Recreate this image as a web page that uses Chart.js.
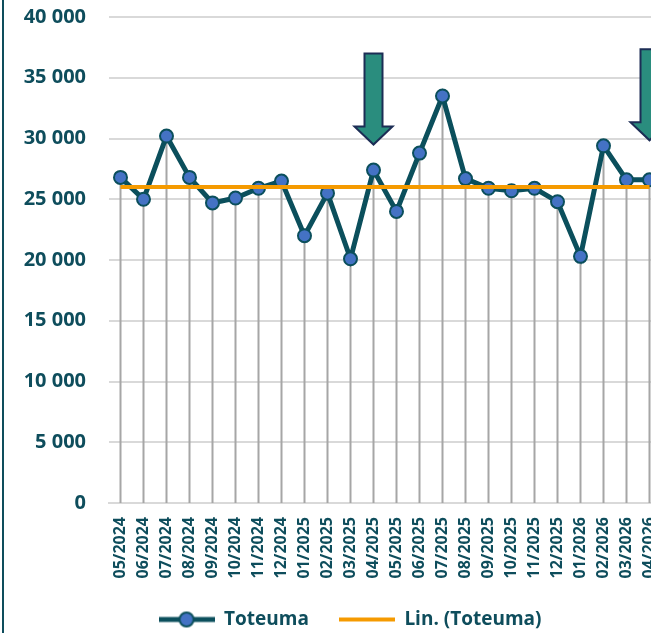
<!DOCTYPE html>
<html lang="fi">
<head>
    <meta charset="UTF-8">
    <title>Toteuma</title>
    <script src="https://cdn.jsdelivr.net/npm/chart.js"></script>
    <style>
        html, body { margin: 0; padding: 0; background: #fff; }
        #wrap { position: relative; width: 651px; height: 633px; overflow: hidden; }
        #chartBox { position: absolute; left: 0; top: 0; width: 700px; height: 633px; }
        #edge { position: absolute; left: 2px; top: 0; width: 2px; height: 633px; background: #0e4d5c; }
    </style>
</head>
<body>
<div id="wrap">
    <div id="chartBox"><canvas id="toteumaChart" width="700" height="633"></canvas></div>
    <div id="edge"></div>
</div>
<script>
    // months
    const labels = ['05/2024', '06/2024', '07/2024', '08/2024', '09/2024', '10/2024', '11/2024', '12/2024',
        '01/2025', '02/2025', '03/2025', '04/2025', '05/2025', '06/2025', '07/2025', '08/2025',
        '09/2025', '10/2025', '11/2025', '12/2025', '01/2026', '02/2026', '03/2026', '04/2026'];

    const toteuma = [26800, 25000, 30200, 26800, 24700, 25100, 25900, 26500,
        22000, 25500, 20100, 27400, 24000, 28800, 33500, 26700,
        25900, 25700, 25900, 24800, 20300, 29400, 26600, 26600];

    // linear trend (start and end)
    const trendStart = 26000;
    const trendEnd = 26000;

    // arrow markers: month, top value, tip value
    const arrowMonths = ['04/2025', '04/2026'];
    const arrowTops = [37000, 37350];
    const arrowTips = [29500, 29850];

    const textColor = '#0e4d5c';
    const lineColor = '#0b4f5c';
    const pointColor = '#4472c4';
    const trendColor = '#f59a00';
    const fontFamily = 'Open Sans';

    const fmt = v => String(v).replace(/\B(?=(\d{3})+(?!\d))/g, ' ');

    // legend images
    const makeLegendImg = (withPoint) => {
        const c = document.createElement('canvas');
        c.width = 56; c.height = 18;
        const g = c.getContext('2d');
        g.strokeStyle = withPoint ? lineColor : trendColor;
        g.lineWidth = withPoint ? 5 : 4;
        g.beginPath(); g.moveTo(0, 9); g.lineTo(56, 9); g.stroke();
        if (withPoint) {
            g.beginPath(); g.arc(28, 9, 7, 0, Math.PI * 2);
            g.fillStyle = pointColor; g.fill();
            g.lineWidth = 2; g.strokeStyle = lineColor; g.stroke();
        }
        return c;
    };
    const legendImgs = [makeLegendImg(true), makeLegendImg(false)];

    const dropLines = {
        id: 'dropLines',
        beforeDatasetsDraw(chart) {
            const ctx = chart.ctx;
            const meta = chart.getDatasetMeta(0);
            const bottom = chart.chartArea.bottom;
            ctx.save();
            ctx.strokeStyle = '#a6a6a6';
            ctx.lineWidth = 2;
            meta.data.forEach(pt => {
                ctx.beginPath();
                ctx.moveTo(pt.x, pt.y);
                ctx.lineTo(pt.x, bottom);
                ctx.stroke();
            });
            ctx.restore();
        }
    };

    const arrows = {
        id: 'arrows',
        afterDatasetsDraw(chart) {
            const ctx = chart.ctx;
            const xs = chart.scales.x, ys = chart.scales.y;
            ctx.save();
            arrowMonths.forEach((m, i) => {
                const x = xs.getPixelForValue(labels.indexOf(m));
                const top = ys.getPixelForValue(arrowTops[i]);
                const tip = ys.getPixelForValue(arrowTips[i]);
                const neck = tip - 18;
                ctx.beginPath();
                ctx.moveTo(x - 9, top);
                ctx.lineTo(x + 9, top);
                ctx.lineTo(x + 9, neck);
                ctx.lineTo(x + 19, neck);
                ctx.lineTo(x, tip);
                ctx.lineTo(x - 19, neck);
                ctx.lineTo(x - 9, neck);
                ctx.closePath();
                ctx.fillStyle = '#2a8d7e';
                ctx.fill();
                ctx.lineWidth = 2;
                ctx.strokeStyle = '#1c2d55';
                ctx.stroke();
            });
            ctx.restore();
        }
    };

    new Chart(document.getElementById('toteumaChart').getContext('2d'), {
        type: 'line',
        data: {
            labels: labels,
            datasets: [
                {
                    label: 'Toteuma',
                    data: toteuma,
                    borderColor: lineColor,
                    borderWidth: 5,
                    backgroundColor: pointColor,
                    pointBackgroundColor: pointColor,
                    pointBorderColor: lineColor,
                    pointBorderWidth: 2,
                    pointRadius: 6.5,
                    tension: 0,
                    order: 2
                },
                {
                    label: 'Lin. (Toteuma)',
                    data: [{x: labels[0], y: trendStart}, {x: labels[labels.length - 1], y: trendEnd}],
                    borderColor: trendColor,
                    borderWidth: 4,
                    pointRadius: 0,
                    fill: false,
                    order: 1
                }
            ]
        },
        options: {
            responsive: false,
            animation: false,
            layout: { padding: { left: 0, right: 0, top: 17, bottom: -6 } },
            scales: {
                x: {
                    offset: true,
                    grid: { display: false, drawTicks: false },
                    border: { display: true, color: '#d9d9d9', width: 2 },
                    ticks: {
                        autoSkip: false,
                        minRotation: 90,
                        maxRotation: 90,
                        padding: 14,
                        color: textColor,
                        font: { family: fontFamily, size: 16, weight: 'bold' }
                    },
                    afterFit(scale) { scale.height = 77; }
                },
                y: {
                    min: 0,
                    max: 40000,
                    grid: { color: '#d9d9d9', lineWidth: 2, drawTicks: true, tickLength: 23, tickColor: 'rgba(0,0,0,0)' },
                    border: { display: false },
                    ticks: {
                        stepSize: 5000,
                        padding: 0,
                        color: textColor,
                        font: { family: fontFamily, size: 20, weight: 'bold' },
                        callback: v => fmt(v)
                    },
                    afterFit(scale) { scale.width = 109; }
                },
                // empty right-side spacer so the legend centres like the original
                yRight: {
                    position: 'right',
                    display: true,
                    grid: { display: false, drawTicks: false },
                    border: { display: false },
                    ticks: { display: false },
                    afterFit(scale) { scale.width = 39; }
                }
            },
            plugins: {
                tooltip: { enabled: false },
                legend: {
                    position: 'bottom',
                    labels: {
                        usePointStyle: true,
                        pointStyleWidth: 56,
                        padding: 30,
                        color: textColor,
                        font: { family: fontFamily, size: 19, weight: 'bold' },
                        sort: (a, b) => a.datasetIndex - b.datasetIndex,
                        generateLabels(chart) {
                            const items = Chart.defaults.plugins.legend.labels.generateLabels(chart);
                            items.forEach(it => { it.pointStyle = legendImgs[it.datasetIndex]; });
                            return items;
                        }
                    }
                }
            }
        },
        plugins: [dropLines, arrows]
    });
</script>
</body>
</html>
